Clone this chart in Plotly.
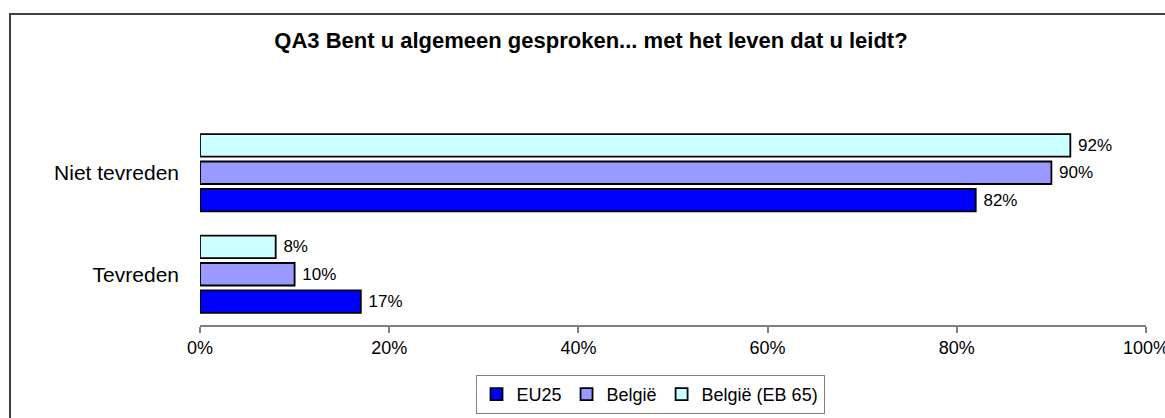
import plotly.graph_objects as go

categories = ["Tevreden", "Niet tevreden"]
series_names = ["EU25", "België", "België (EB 65)"]
eu25 = [17, 82]
belgie = [10, 90]
belgie_eb65 = [8, 92]
x_ticks = [0, 20, 40, 60, 80, 100]
x_tick_labels = ["0%", "20%", "40%", "60%", "80%", "100%"]

colors = ["#0000FF", "#9999FF", "#CCFFFF"]
values = [eu25, belgie, belgie_eb65]

FONT = "Liberation Sans, Arial, sans-serif"

fig = go.Figure()
for name, vals, col in zip(series_names, values, colors):
    fig.add_trace(go.Bar(
        y=categories, x=vals, name=name, orientation="h",
        marker=dict(color=col, line=dict(color="#000000", width=1.8)),
        text=[f"\u00a0{v}%" for v in vals], textposition="outside",
        textfont=dict(family=FONT, size=17, color="#000000"),
        cliponaxis=False,
    ))

fig.update_layout(
    width=1165, height=418,
    margin=dict(l=200, r=19, t=122, b=93, autoexpand=False),
    paper_bgcolor="white", plot_bgcolor="white",
    barmode="group", bargap=0.19, bargroupgap=0.18,
    font=dict(family=FONT, color="#000000"),
    title=dict(
        text="<b>QA3 Bent u algemeen gesproken... met het leven dat u leidt?</b>",
        x=591 / 1165, xref="container", xanchor="center",
        y=1 - 40 / 418, yref="container", yanchor="middle",
        font=dict(family=FONT, size=22, color="#000000"),
    ),
    xaxis=dict(
        range=[0, 100], tickvals=x_ticks, ticktext=x_tick_labels,
        showgrid=False, zeroline=False,
        showline=True, linecolor="#808080", linewidth=1.5,
        ticks="outside", ticklen=6, tickcolor="#808080", tickwidth=1.5,
        tickfont=dict(family=FONT, size=18, color="#000000"),
        ticklabeloverflow="allow", automargin=False,
        fixedrange=True,
    ),
    yaxis=dict(
        categoryorder="array", categoryarray=categories,
        range=[-0.5, 1.5],
        showgrid=False, zeroline=False, showline=False,
        ticks="", ticklabelstandoff=20, automargin=False,
        tickfont=dict(family=FONT, size=21, color="#000000"),
        fixedrange=True,
    ),
    legend=dict(
        orientation="h", x=(650 - 200) / 946, xanchor="center",
        y=(325 - 375) / 203, yanchor="top",
        bordercolor="#808080", borderwidth=1,
        font=dict(family=FONT, size=18, color="#000000"),
        traceorder="normal", itemwidth=30,
    ),
    showlegend=True,
    shapes=[dict(
        type="rect", xref="paper", yref="paper",
        x0=(10 - 200) / 946, x1=1.1, y0=-0.7, y1=(325 - 14) / 203,
        line=dict(color="#404040", width=2), fillcolor="rgba(0,0,0,0)",
        layer="below",
    )],
)

fig.write_html(
    "out.html",
    config={"displayModeBar": False},
    post_script="document.body.style.margin='0';document.body.style.padding='0';document.body.style.overflow='hidden';",
)
